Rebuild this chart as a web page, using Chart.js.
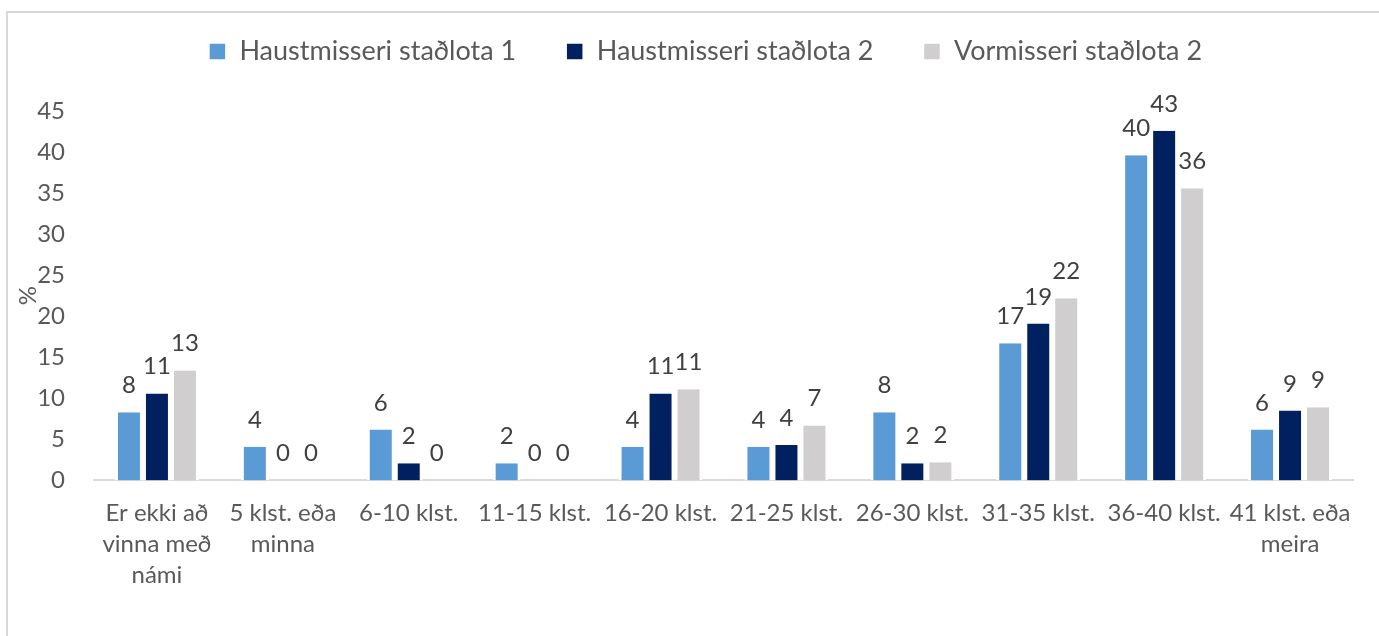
<!DOCTYPE html>
<html>
<head>
<meta charset="utf-8">
<script src="https://cdn.jsdelivr.net/npm/chart.js@4"></script>
<style>
  html, body { margin: 0; padding: 0; background: #fff; overflow: hidden; }
  #wrap { position: relative; width: 1379px; height: 636px; }
  #frame { position: absolute; left: 6px; top: 11px; width: 1500px; height: 800px; border: 2px solid #d9d9d9; box-sizing: border-box; }
  #myChart { position: absolute; left: 0; top: 0; }
</style>
</head>
<body>
<div id="wrap">
  <div id="frame"></div>
  <canvas id="myChart" width="1379" height="636"></canvas>
</div>
<script>
const categories = [
    ["Er ekki að", "vinna með", "námi"],
    ["5 klst. eða", "minna"],
    "6-10 klst.",
    "11-15 klst.",
    "16-20 klst.",
    "21-25 klst.",
    "26-30 klst.",
    "31-35 klst.",
    "36-40 klst.",
    ["41 klst. eða", "meira"]
];
const seriesNames = ["Haustmisseri staðlota 1", "Haustmisseri staðlota 2", "Vormisseri staðlota 2"];
const haust1 = [8.3, 4.1, 6.2, 2.1, 4.1, 4.1, 8.3, 16.7, 39.6, 6.2];
const haust2 = [10.6, 0, 2.1, 0, 10.6, 4.3, 2.1, 19.1, 42.6, 8.5];
const vor2 = [13.4, 0, 0, 0, 11.1, 6.7, 2.2, 22.2, 35.6, 8.9];
const yTicks = [0, 5, 10, 15, 20, 25, 30, 35, 40, 45];

const colors = ["#5b9bd5", "#002060", "#d0cece"];
const fontFamily = "Lato, 'Open Sans', sans-serif";

// draws the rounded value above each bar
const barLabels = {
    id: 'barLabels',
    afterDatasetsDraw(chart) {
        const ctx = chart.ctx;
        ctx.save();
        ctx.font = "24px " + fontFamily;
        ctx.fillStyle = "#404040";
        ctx.textAlign = "center";
        ctx.textBaseline = "alphabetic";
        chart.data.datasets.forEach((ds, i) => {
            chart.getDatasetMeta(i).data.forEach((bar, j) => {
                ctx.fillText(Math.round(ds.data[j]), bar.x, bar.y - 19);
            });
        });
        ctx.restore();
    }
};

// legend gets a fixed height and is nudged to where the original sits
const legendSpot = {
    id: 'legendSpot',
    afterInit(chart) {
        const legend = chart.legend;
        const fit = legend.fit;
        legend.fit = function() {
            fit.call(this);
            this.height = 111;
        };
    },
    afterLayout(chart) {
        const legend = chart.legend;
        legend.top -= 12;
        legend.bottom -= 12;
        legend.left += 29;
        legend.right += 29;
    }
};

const sets = [haust1, haust2, vor2].map((vals, i) => ({
    label: seriesNames[i],
    data: vals,
    backgroundColor: colors[i],
    borderColor: "#ffffff",
    borderWidth: { left: 3, right: 3, top: 0, bottom: 0 },
    borderSkipped: false,
    categoryPercentage: 0.667,
    barPercentage: 1.0
}));

new Chart("myChart", {
    type: "bar",
    data: { labels: categories, datasets: sets },
    options: {
        responsive: false,
        animation: false,
        layout: { padding: { left: 0, right: 26, top: 0, bottom: 28 } },
        plugins: {
            legend: {
                display: true,
                position: "top",
                labels: {
                    boxWidth: 17,
                    boxHeight: 17,
                    padding: 50,
                    color: "#595959",
                    font: { family: fontFamily, size: 27 }
                }
            },
            tooltip: { enabled: false }
        },
        scales: {
            x: {
                grid: { display: false, drawTicks: false },
                border: { display: true, color: "#d9d9d9", width: 2 },
                ticks: {
                    color: "#595959",
                    padding: 17,
                    maxRotation: 0,
                    autoSkip: false,
                    font: { family: fontFamily, size: 24, lineHeight: 1.3 }
                }
            },
            y: {
                min: 0,
                max: 45,
                afterFit: function(scale) { scale.width = 94; },
                afterBuildTicks: function(scale) { scale.ticks = yTicks.map(v => ({ value: v })); },
                grid: { display: false, drawTicks: false },
                border: { display: false },
                title: {
                    display: true,
                    text: "%",
                    color: "#595959",
                    padding: { top: 14, bottom: 0 },
                    font: { family: fontFamily, size: 24 }
                },
                ticks: {
                    color: "#595959",
                    padding: 29,
                    font: { family: fontFamily, size: 24 }
                }
            }
        }
    },
    plugins: [barLabels, legendSpot]
});
</script>
</body>
</html>
